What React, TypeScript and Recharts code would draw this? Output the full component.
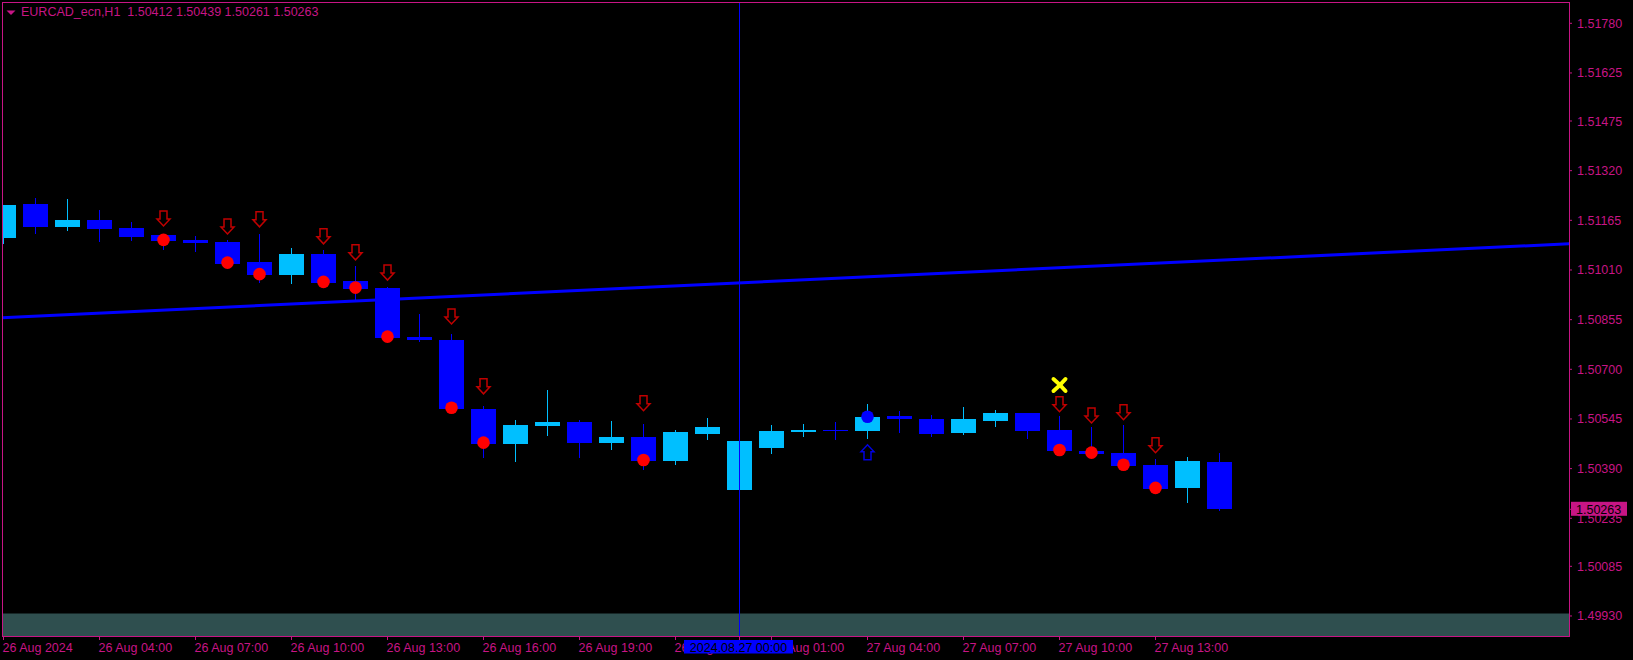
import { ComposedChart, Bar, Scatter, XAxis, YAxis, ReferenceLine, ReferenceArea } from "recharts"

// EURCAD_ecn H1, one bar per hour from 26 Aug 01:00 to 27 Aug 15:00
const bars = [
  0, 1, 2, 3, 4, 5, 6, 7, 8, 9, 10, 11, 12, 13, 14, 15, 16, 17, 18, 19,
  20, 21, 22, 23, 24, 25, 26, 27, 28, 29, 30, 31, 32, 33, 34, 35, 36, 37, 38,
]
const opens = [
  1.51111, 1.51216, 1.51144, 1.51166, 1.51141, 1.51119, 1.51104, 1.51097, 1.51035, 1.50994,
  1.5106, 1.50976, 1.50954, 1.50801, 1.50791, 1.50576, 1.50468, 1.50524, 1.50535, 1.50471,
  1.50489, 1.50414, 1.50499, 1.50324, 1.50455, 1.50504, 1.50511, 1.50507, 1.50555, 1.50545,
  1.50502, 1.50539, 1.50564, 1.50511, 1.50445, 1.50439, 1.50401, 1.5033, 1.50412,
]
const highs = [
  1.51213, 1.51236, 1.51232, 1.51197, 1.5116, 1.51119, 1.51116, 1.51104, 1.51122, 1.51079,
  1.51072, 1.51022, 1.50958, 1.50874, 1.5081, 1.50585, 1.50542, 1.50635, 1.50542, 1.50539,
  1.50529, 1.50511, 1.50548, 1.50476, 1.50526, 1.50529, 1.50535, 1.50592, 1.5057, 1.50557,
  1.50582, 1.50573, 1.50564, 1.50554, 1.5052, 1.50526, 1.5042, 1.50426, 1.50439,
]
const lows = [
  1.51095, 1.51125, 1.51135, 1.511, 1.51104, 1.51076, 1.5107, 1.5103, 1.50973, 1.5097,
  1.50969, 1.50916, 1.50797, 1.50788, 1.50574, 1.50427, 1.50415, 1.50496, 1.50427, 1.50452,
  1.5039, 1.50405, 1.50483, 1.50324, 1.5044, 1.50493, 1.50482, 1.50486, 1.50505, 1.50492,
  1.50498, 1.50524, 1.50486, 1.50445, 1.50437, 1.50398, 1.50326, 1.50286, 1.50261,
]
const closes = [
  1.51213, 1.51144, 1.51166, 1.51138, 1.51113, 1.511, 1.51094, 1.5103, 1.50994, 1.5106,
  1.50969, 1.50951, 1.50799, 1.50791, 1.50576, 1.50468, 1.50526, 1.50535, 1.5047, 1.50489,
  1.50414, 1.50504, 1.5052, 1.50476, 1.50507, 1.50511, 1.50508, 1.50551, 1.50545, 1.50499,
  1.50545, 1.50564, 1.50507, 1.50445, 1.50437, 1.50398, 1.50326, 1.50414, 1.50263,
]

// signals drawn by the indicator
const sellBars = [5, 7, 8, 10, 11, 12, 14, 15, 20, 33, 34, 35, 36]
const sellArrowPrice = [
  1.51171, 1.51146, 1.51168, 1.51115, 1.51065, 1.51002, 1.50865, 1.50647, 1.50594,
  1.50591, 1.50556, 1.50566, 1.50463,
]
const sellDotPrice = [
  1.51104, 1.51033, 1.50997, 1.50973, 1.50955, 1.50802, 1.5058, 1.50471, 1.50417,
  1.50448, 1.5044, 1.50402, 1.5033,
]
const buyBars = [27]
const buyArrowPrice = [1.50441]
const buyDotPrice = [1.50552]
const exitBars = [33]
const exitPrice = [1.50651]

// trend line anchors
const trendBars = [-1, 50]
const trendPrice = [1.508565, 1.510969]

const xTicks = [0, 3, 6, 9, 12, 15, 18, 21, 24, 27, 30, 33, 36]
const xTickLabels = [
  "26 Aug 2024", "26 Aug 04:00", "26 Aug 07:00", "26 Aug 10:00", "26 Aug 13:00",
  "26 Aug 16:00", "26 Aug 19:00", "26 Aug 22:00", "27 Aug 01:00", "27 Aug 04:00",
  "27 Aug 07:00", "27 Aug 10:00", "27 Aug 13:00",
]
const priceTicks = [
  1.4993, 1.50085, 1.50235, 1.5039, 1.50545, 1.507, 1.50855, 1.5101, 1.51165, 1.5132,
  1.51475, 1.51625, 1.5178,
]
const crossBar = 23
const crossLabel = "2024.08.27 00:00"
const lastPrice = 1.50263
const bandTop = 1.49938

const priceDomain = [1.498675, 1.518465]
const barDomain = [-0.046875, 48.921875]

const fg = "#C71585"
const bullColor = "#00BFFF"
const bearColor = "#0000FF"
const font = "'Liberation Sans', Arial, sans-serif"

const candles = bars.map((i, k) => ({
  i,
  open: opens[k],
  high: highs[k],
  low: lows[k],
  close: closes[k],
  range: [lows[k], highs[k]],
}))
const sellArrows = sellBars.map((i, k) => ({ i, price: sellArrowPrice[k] }))
const sellDots = sellBars.map((i, k) => ({ i, price: sellDotPrice[k] }))
const buyArrows = buyBars.map((i, k) => ({ i, price: buyArrowPrice[k] }))
const buyDots = buyBars.map((i, k) => ({ i, price: buyDotPrice[k] }))
const exits = exitBars.map((i, k) => ({ i, price: exitPrice[k] }))

function Candle(props: any) {
  const { x, y, width, height, payload } = props
  if (!payload) return null
  const top = Math.min(y, y + height)
  const bottom = Math.max(y, y + height)
  const span = payload.high - payload.low
  const toY = (p: number) => (span === 0 ? top : top + ((payload.high - p) / span) * (bottom - top))
  const cx = Math.floor(x + width / 2) + 0.5
  const color = payload.close >= payload.open ? bullColor : bearColor
  const bodyTop = Math.round(toY(Math.max(payload.open, payload.close)))
  const bodyBottom = Math.round(toY(Math.min(payload.open, payload.close)))
  return (
    <g shapeRendering="crispEdges">
      <line x1={cx} x2={cx} y1={Math.round(top)} y2={Math.round(bottom) + 1} stroke={color} />
      <rect x={cx - 12.5} y={bodyTop} width={25} height={Math.max(1, bodyBottom - bodyTop)} fill={color} />
    </g>
  )
}

function DownArrow(props: any) {
  const { cx, cy } = props
  return (
    <path
      d={`M${cx - 3.5},${cy - 7.5}H${cx + 3.5}V${cy + 0.5}H${cx + 6.5}L${cx},${cy + 7.5}L${cx - 6.5},${cy + 0.5}H${cx - 3.5}Z`}
      fill="none"
      stroke="#C00000"
      strokeWidth={1.5}
    />
  )
}

function UpArrow(props: any) {
  const { cx, cy } = props
  return (
    <path
      d={`M${cx - 3.5},${cy + 7.5}H${cx + 3.5}V${cy - 0.5}H${cx + 6.5}L${cx},${cy - 7.5}L${cx - 6.5},${cy - 0.5}H${cx - 3.5}Z`}
      fill="none"
      stroke="#0000E0"
      strokeWidth={1.5}
    />
  )
}

const Dot = (color: string) => (props: any) => <circle cx={props.cx} cy={props.cy} r={6.3} fill={color} />

function Cross(props: any) {
  const { cx, cy } = props
  return (
    <g stroke="#FFFF00" strokeWidth={4} strokeLinecap="round">
      <path d={`M${cx - 6},${cy - 6} Q${cx},${cy - 1} ${cx + 6},${cy + 6}`} fill="none" />
      <path d={`M${cx + 6},${cy - 6} Q${cx},${cy + 1} ${cx - 6},${cy + 6}`} fill="none" />
    </g>
  )
}

function TimeTick(props: any) {
  const { x, y, payload } = props
  if (payload.value === crossBar) {
    return (
      <g>
        <rect x={x - 55.5} y={y - 2} width={109} height={13.5} fill="#0000FF" />
        <text x={x - 1} y={y + 10} textAnchor="middle" fill="#000" fontFamily={font} fontSize={12.5}>
          {crossLabel}
        </text>
      </g>
    )
  }
  const k = xTicks.indexOf(payload.value)
  return (
    <text x={x - 1} y={y + 10} textAnchor="start" fill={fg} fontFamily={font} fontSize={12.5}>
      {xTickLabels[k]}
    </text>
  )
}

function PriceTick(props: any) {
  const { x, y, payload } = props
  if (payload.value === lastPrice) {
    return (
      <g>
        <rect x={x - 6} y={y - 7.5} width={56} height={14} fill={fg} />
        <text x={x - 1} y={y + 4.5} fill="#000" fontFamily={font} fontSize={12.5}>
          {lastPrice.toFixed(5)}
        </text>
      </g>
    )
  }
  return (
    <text x={x} y={y + 4.5} fill={fg} fontFamily={font} fontSize={12.5}>
      {Number(payload.value).toFixed(5)}
    </text>
  )
}

export default function App() {
  return (
    <div style={{ position: "fixed", left: 0, top: 0, width: 1633, height: 660, background: "#000" }}>
      <ComposedChart width={1633} height={660} data={candles} margin={{ top: 2, right: 0, bottom: 0, left: 2 }}>
        <XAxis
          dataKey="i"
          type="number"
          domain={barDomain}
          allowDataOverflow
          ticks={[...xTicks, crossBar]}
          interval={0}
          height={24}
          axisLine={false}
          tickLine={{ stroke: fg }}
          tickSize={4}
          tickMargin={2}
          tick={<TimeTick />}
        />
        <YAxis
          orientation="right"
          type="number"
          domain={priceDomain}
          allowDataOverflow
          ticks={[...priceTicks, lastPrice]}
          interval={0}
          width={64}
          axisLine={false}
          tickLine={{ stroke: fg }}
          tickSize={3}
          tickMargin={5}
          tick={<PriceTick />}
        />
        <ReferenceArea
          x1={barDomain[0]}
          x2={barDomain[1]}
          y1={priceDomain[0]}
          y2={bandTop}
          fill="#2F4F4F"
          fillOpacity={1}
          stroke="none"
        />
        <ReferenceLine
          segment={[
            { x: trendBars[0], y: trendPrice[0] },
            { x: trendBars[1], y: trendPrice[1] },
          ]}
          stroke="#0000FF"
          strokeWidth={3}
          ifOverflow="hidden"
        />
        <Bar dataKey="range" barSize={26} shape={<Candle />} isAnimationActive={false} />
        <ReferenceLine x={crossBar} stroke="#0000FF" strokeWidth={1} />
        <Scatter data={sellDots} dataKey="price" shape={Dot("#FF0000")} isAnimationActive={false} />
        <Scatter data={buyDots} dataKey="price" shape={Dot("#0000FF")} isAnimationActive={false} />
        <Scatter data={sellArrows} dataKey="price" shape={<DownArrow />} isAnimationActive={false} />
        <Scatter data={buyArrows} dataKey="price" shape={<UpArrow />} isAnimationActive={false} />
        <Scatter data={exits} dataKey="price" shape={<Cross />} isAnimationActive={false} />
      </ComposedChart>
      <div
        style={{
          position: "absolute",
          left: 2,
          top: 2,
          width: 1568,
          height: 635,
          boxSizing: "border-box",
          border: `1px solid ${fg}`,
          pointerEvents: "none",
        }}
      />
      <svg style={{ position: "absolute", left: 0, top: 0 }} width={20} height={20}>
        <polygon points="6.5,10.5 15.5,10.5 11,15" fill={fg} />
      </svg>
      <div
        style={{
          position: "absolute",
          left: 21,
          top: 6,
          fontFamily: font,
          fontSize: 12.5,
          lineHeight: "13px",
          color: fg,
          whiteSpace: "pre",
        }}
      >
        {"EURCAD_ecn,H1  1.50412 1.50439 1.50261 1.50263"}
      </div>
    </div>
  )
}
